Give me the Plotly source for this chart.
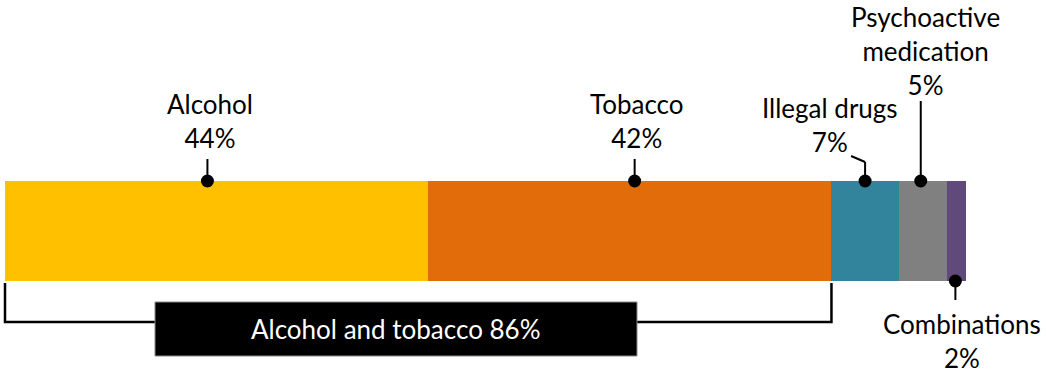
import plotly.graph_objects as go

# Share of substance-related cases by substance (percent)
categories = ["Alcohol", "Tobacco", "Illegal drugs", "Psychoactive<br>medication", "Combinations"]
values = [44, 42, 7, 5, 2]
colors = ["#FFC000", "#E36C0A", "#31849B", "#808080", "#604A7B"]
group_label = "Alcohol and tobacco"
group_value = values[0] + values[1]

W, H = 1046, 374
LEFT_PX, PX_PER_UNIT = 5, 9.61
FONT = "Lato"
FS = 26

def px(dx):
    return dx / PX_PER_UNIT

BAR_TOP, BAR_BOT = 181, 281
bar_mid = (BAR_TOP + BAR_BOT) / 2

fig = go.Figure()

starts = []
acc = 0
for cat, v, c in zip(categories, values, colors):
    starts.append(acc)
    fig.add_trace(go.Bar(
        x=[v], y=[bar_mid], base=[acc], orientation="h", width=BAR_BOT - BAR_TOP,
        marker=dict(color=c, line=dict(width=0)), showlegend=False, hoverinfo="skip",
    ))
    acc += v

# Callout styling: dot offset from segment middle (px), dot edge (top/bottom),
# label center relative to dot (px), and leader path back to the label
dot_dx = [-9, 5, 0, -2, -1]
dot_edge = ["top", "top", "top", "top", "bottom"]
label_dx = [3, 2, -35, 5, 7]
label_y = [121, 121, 125, 51, 341]
leader_end = [159, 159, 162, 101, 300]

dots_x, dots_y = [], []
for i, (cat, v) in enumerate(zip(categories, values)):
    xd = starts[i] + v / 2 + px(dot_dx[i])
    yd = BAR_TOP if dot_edge[i] == "top" else BAR_BOT
    dots_x.append(xd)
    dots_y.append(yd)
    # leader line
    fig.add_shape(type="line", x0=xd, x1=xd, y0=yd, y1=leader_end[i],
                  line=dict(color="black", width=2), layer="above")
    if cat == "Illegal drugs":
        fig.add_shape(type="line", x0=xd, x1=xd + px(-14), y0=leader_end[i], y1=leader_end[i] - 6,
                      line=dict(color="black", width=2), layer="above")
    fig.add_annotation(x=xd, y=label_y[i], xref="x", yref="y", xshift=label_dx[i],
                       text=f"{cat}<br>{v}%", showarrow=False, align="center",
                       xanchor="center", yanchor="middle",
                       font=dict(family=FONT, size=FS, color="black"))

fig.add_trace(go.Scatter(x=dots_x, y=dots_y, mode="markers",
                         marker=dict(color="black", size=13), showlegend=False,
                         hoverinfo="skip", cliponaxis=False))

# Bracket spanning alcohol + tobacco
br_top, br_bot = 283, 322
x_end = group_value
fig.add_shape(type="path",
              path=f"M {0},{br_top} L {0},{br_bot} L {x_end},{br_bot} L {x_end},{br_top}",
              line=dict(color="black", width=2.5), layer="above")
box_x0 = px(155 - LEFT_PX)
box_x1 = px(637 - LEFT_PX)
fig.add_shape(type="rect", x0=box_x0, x1=box_x1, y0=302, y1=356,
              fillcolor="black", line=dict(color="#8a8a8a", width=1), layer="above")
fig.add_annotation(x=(box_x0 + box_x1) / 2, y=329, xref="x", yref="y",
                   text=f"{group_label} {group_value}%", showarrow=False,
                   xanchor="center", yanchor="middle",
                   font=dict(family=FONT, size=FS, color="white"))

fig.update_layout(
    width=W, height=H, margin=dict(l=0, r=0, t=0, b=0),
    paper_bgcolor="white", plot_bgcolor="white", barmode="overlay", bargap=0,
    xaxis=dict(range=[px(-LEFT_PX), px(W - LEFT_PX)], visible=False, fixedrange=True),
    yaxis=dict(range=[H, 0], visible=False, fixedrange=True),
)

fig.write_html("out.html")
